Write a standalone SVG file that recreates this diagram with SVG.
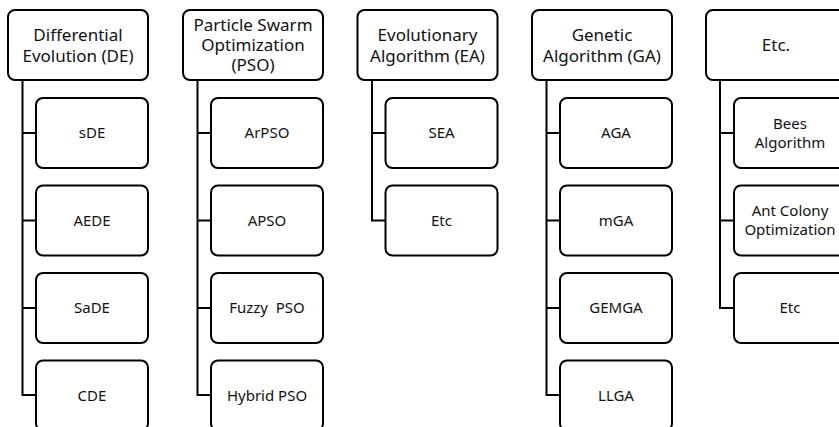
<svg xmlns="http://www.w3.org/2000/svg" width="839" height="427" viewBox="0 0 839 427">
<style>
rect{fill:#fff;stroke:#000;stroke-width:2}
.c path{fill:none;stroke:#000;stroke-width:2}
text{font-family:"Noto Sans","Open Sans",sans-serif;fill:#111;text-anchor:middle;white-space:pre}
.h{font-size:17px}
.s{font-size:15px}
</style>
<rect width="839" height="427" style="fill:#fff;stroke:none"/>
<g class="c">
<path d="M22.5 80V395H36"/><path d="M22.5 133H36M22.5 220.5H36M22.5 308H36"/>
<path d="M197.5 80V395H211"/><path d="M197.5 133H211M197.5 220.5H211M197.5 308H211"/>
<path d="M372 80V220.5H385.5"/><path d="M372 133H385.5"/>
<path d="M546.5 80V395H560"/><path d="M546.5 133H560M546.5 220.5H560M546.5 308H560"/>
<path d="M720 80V308H734"/><path d="M720 133H734M720 220.5H734"/>
</g>
<g id="de"><rect x="8" y="10" width="140" height="70" rx="7"/><text class="h" x="78" y="41">Differential</text><text class="h" x="78" y="62">Evolution (DE)</text></g>
<g id="sde"><rect x="36" y="98" width="112" height="70" rx="7"/><text class="s" x="92" y="138">sDE</text></g>
<g id="aede"><rect x="36" y="185.5" width="112" height="70" rx="7"/><text class="s" x="92" y="225.5">AEDE</text></g>
<g id="sade"><rect x="36" y="273" width="112" height="70" rx="7"/><text class="s" x="92" y="313">SaDE</text></g>
<g id="cde"><rect x="36" y="360.5" width="112" height="70" rx="7"/><text class="s" x="92" y="400.5">CDE</text></g>
<g id="pso"><rect x="183" y="10" width="140" height="70" rx="7"/><text class="h" x="253" y="31">Particle Swarm</text><text class="h" x="253" y="51">Optimization</text><text class="h" x="253" y="71">(PSO)</text></g>
<g id="arpso"><rect x="211" y="98" width="112" height="70" rx="7"/><text class="s" x="267" y="138">ArPSO</text></g>
<g id="apso"><rect x="211" y="185.5" width="112" height="70" rx="7"/><text class="s" x="267" y="225.5">APSO</text></g>
<g id="fpso"><rect x="211" y="273" width="112" height="70" rx="7"/><text class="s" x="267" y="313">Fuzzy  PSO</text></g>
<g id="hpso"><rect x="211" y="360.5" width="112" height="70" rx="7"/><text class="s" x="267" y="400.5">Hybrid PSO</text></g>
<g id="ea"><rect x="357.5" y="10" width="140" height="70" rx="7"/><text class="h" x="427.5" y="41">Evolutionary</text><text class="h" x="427.5" y="62">Algorithm (EA)</text></g>
<g id="sea"><rect x="385.5" y="98" width="112" height="70" rx="7"/><text class="s" x="441.5" y="138">SEA</text></g>
<g id="eaetc"><rect x="385.5" y="185.5" width="112" height="70" rx="7"/><text class="s" x="441.5" y="225.5">Etc</text></g>
<g id="ga"><rect x="532" y="10" width="140" height="70" rx="7"/><text class="h" x="602" y="41">Genetic</text><text class="h" x="602" y="62">Algorithm (GA)</text></g>
<g id="aga"><rect x="560" y="98" width="112" height="70" rx="7"/><text class="s" x="616" y="138">AGA</text></g>
<g id="mga"><rect x="560" y="185.5" width="112" height="70" rx="7"/><text class="s" x="616" y="225.5">mGA</text></g>
<g id="gemga"><rect x="560" y="273" width="112" height="70" rx="7"/><text class="s" x="616" y="313">GEMGA</text></g>
<g id="llga"><rect x="560" y="360.5" width="112" height="70" rx="7"/><text class="s" x="616" y="400.5">LLGA</text></g>
<g id="etc"><rect x="706" y="10" width="140" height="70" rx="7"/><text class="h" x="776" y="51">Etc.</text></g>
<g id="bees"><rect x="734" y="98" width="112" height="70" rx="7"/><text class="s" x="790" y="129">Bees</text><text class="s" x="790" y="148">Algorithm</text></g>
<g id="aco"><rect x="734" y="185.5" width="112" height="70" rx="7"/><text class="s" x="790" y="216">Ant Colony</text><text class="s" x="790" y="235">Optimization</text></g>
<g id="etcetc"><rect x="734" y="273" width="112" height="70" rx="7"/><text class="s" x="790" y="313">Etc</text></g>
</svg>
